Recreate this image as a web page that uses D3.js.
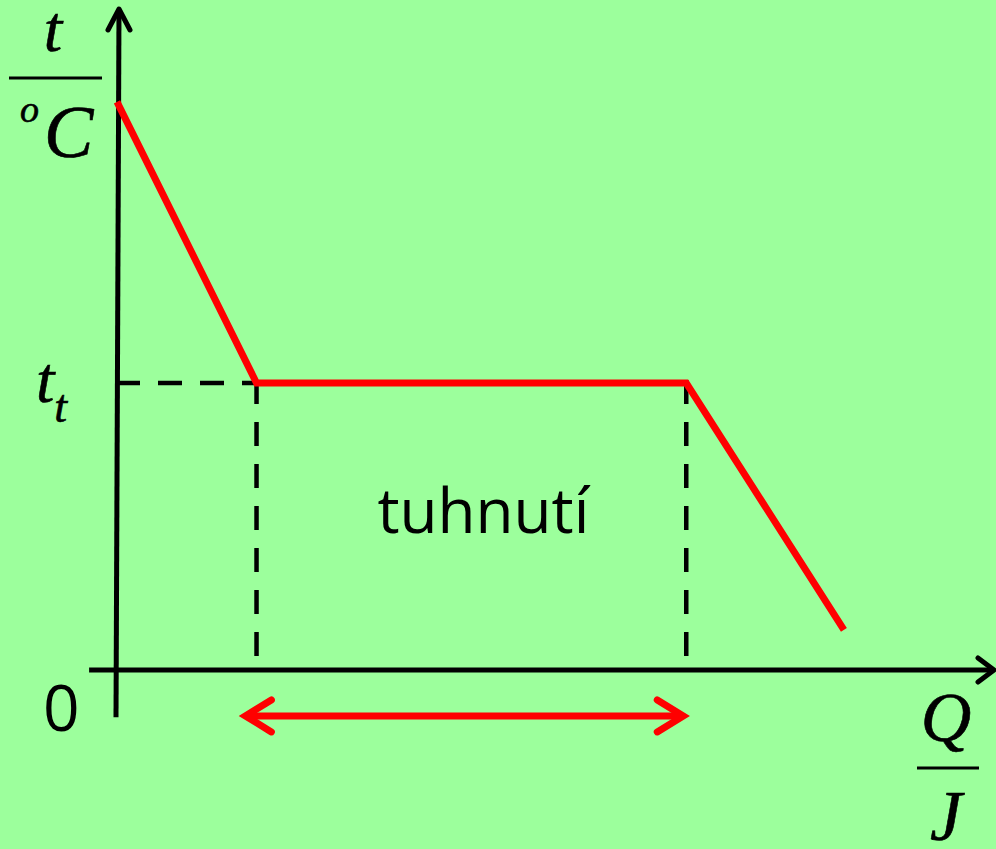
<!DOCTYPE html>
<html>
<head>
<meta charset="utf-8">
<script src="https://cdn.jsdelivr.net/npm/d3@7"></script>
<style>
  html, body { margin: 0; padding: 0; background: #9cff9c; }
  svg { display: block; }
</style>
</head>
<body>
<div id="chart"></div>
<script>
// cooling curve of a liquid (Q released, t temperature), arbitrary units
let qValues = [0, 1, 4.08, 5.21];
let tValues = [19.8, 10, 10, 1.4];
let tMelt = 10;              // t_t, solidification temperature
let qStart = 1, qEnd = 4.08; // solidification interval

let w = 996;
let h = 849;

let x = d3.scaleLinear().domain([0, 6.3]).range([117, 996]);
let y = d3.scaleLinear().domain([0, 23]).range([670, 10]);

let viz = d3.select("#chart")
  .append("svg")
    .attr("width", w)
    .attr("height", h)
    .style("background-color", "#9cff9c")
;

let points = qValues.map(function(q, i){ return [q, tValues[i]]; });

//dashed guides
let dash = viz.append("g")
    .attr("stroke", "black")
    .attr("stroke-width", 4.5)
    .attr("stroke-dasharray", "24 18")
    .attr("fill", "none")
;
dash.append("line")
    .attr("x1", x(0) - 1).attr("x2", x(qStart))
    .attr("y1", y(tMelt)).attr("y2", y(tMelt));
dash.append("line")
    .attr("x1", x(qStart)).attr("x2", x(qStart))
    .attr("y1", y(tMelt) - 3).attr("y2", y(0));
dash.append("line")
    .attr("x1", x(qEnd)).attr("x2", x(qEnd))
    .attr("y1", y(tMelt) - 3).attr("y2", y(0));

//axes
let axes = viz.append("g")
    .attr("stroke", "black")
    .attr("stroke-width", 5)
    .attr("fill", "none")
    .attr("stroke-linecap", "round")
    .attr("stroke-linejoin", "round")
;
axes.append("line")
    .attr("x1", x(-0.2)).attr("x2", x(6.3) - 2)
    .attr("y1", y(0)).attr("y2", y(0))
    .attr("stroke-linecap", "butt");
axes.append("path")
    .attr("d", "M" + (x(6.3) - 18) + "," + (y(0) - 12) + "L" + (x(6.3) - 2) + "," + y(0) + "L" + (x(6.3) - 18) + "," + (y(0) + 12));
axes.append("line")
    .attr("x1", x(0) - 1).attr("x2", x(0) + 2)
    .attr("y1", y(-1.65)).attr("y2", y(23) - 1)
    .attr("stroke-linecap", "butt");
axes.append("path")
    .attr("d", "M" + (x(0) - 9) + "," + (y(23) + 20) + "L" + (x(0) + 2) + "," + (y(23) - 1) + "L" + (x(0) + 13) + "," + (y(23) + 20));

//cooling curve
let line = d3.line()
    .x(function(d){ return x(d[0]); })
    .y(function(d){ return y(d[1]); })
;
viz.append("path")
    .datum(points)
    .attr("d", line)
    .attr("fill", "none")
    .attr("stroke", "#ff0000")
    .attr("stroke-width", 7)
;

//double arrow
let ay = y(-1.6);
let ax1 = x(qStart - 0.08), ax2 = x(qEnd) - 3;
let arr = viz.append("g")
    .attr("stroke", "#ff0000")
    .attr("stroke-width", 7)
    .attr("fill", "none")
    .attr("stroke-linecap", "round")
    .attr("stroke-linejoin", "miter")
;
arr.append("line").attr("x1", ax1 + 3).attr("x2", ax2 - 3).attr("y1", ay).attr("y2", ay);
arr.append("path").attr("d", "M" + (ax1 + 26) + "," + (ay - 16) + "L" + ax1 + "," + ay + "L" + (ax1 + 26) + "," + (ay + 16));
arr.append("path").attr("d", "M" + (ax2 - 26) + "," + (ay - 16) + "L" + ax2 + "," + ay + "L" + (ax2 - 26) + "," + (ay + 16));

//labels
let serif = "'Liberation Serif', 'DejaVu Serif', serif";
let sans = "'Open Sans', 'Noto Sans', sans-serif";

function serifText(s, px, py, size, anchor) {
  return viz.append("text").text(s)
    .attr("x", px).attr("y", py)
    .attr("text-anchor", anchor || "start")
    .attr("stroke", "black").attr("stroke-width", 0.6)
    .style("font-family", serif).style("font-style", "italic").style("font-size", size + "px");
}

serifText("t", 53, 51, 66, "middle");
viz.append("line")
    .attr("x1", 9).attr("x2", 102).attr("y1", 78).attr("y2", 78)
    .attr("stroke", "black").attr("stroke-width", 3);
serifText("o", 20, 122, 38);
serifText("C", 44, 157, 74);

let tt = serifText("", 36, y(tMelt) + 19, 66);
tt.append("tspan").text("t");
tt.append("tspan").text("t")
    .attr("dy", 20).style("font-size", "46px");

viz.append("text").text("0")
    .attr("x", 43).attr("y", 731)
    .style("font-family", sans).style("font-size", "64px");

serifText("Q", 946, 741, 70, "middle");
viz.append("line")
    .attr("x1", 917).attr("x2", 979).attr("y1", 768).attr("y2", 768)
    .attr("stroke", "black").attr("stroke-width", 3);
serifText("J", 946, 840, 72, "middle");

viz.append("text").text("tuhnutí")
    .attr("x", (x(qStart) + x(qEnd)) / 2 + 12).attr("y", 533)
    .attr("text-anchor", "middle")
    .style("font-family", sans).style("font-size", "62px");
</script>
</body>
</html>
